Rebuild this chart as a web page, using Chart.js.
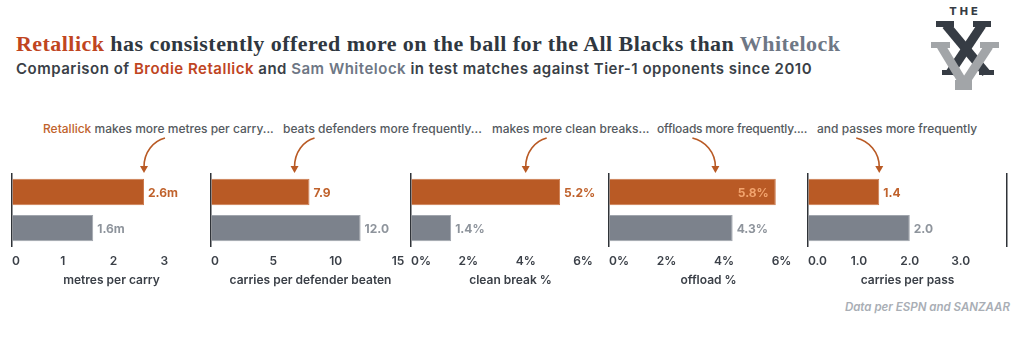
<!DOCTYPE html>
<html lang="en">

<head>
    <meta charset="UTF-8">
    <title>Retallick vs Whitelock</title>
    <style>
        body {
            margin: 0;
            background: #fff;
            font-family: Inter, sans-serif;
        }

        .page {
            position: relative;
            width: 1024px;
            height: 351px;
            overflow: hidden;
        }

        .title {
            position: absolute;
            left: 16px;
            top: 32px;
            font-family: "Liberation Serif", serif;
            font-weight: 700;
            font-size: 22px;
            letter-spacing: 0.45px;
            line-height: 24px;
            color: #2f3740;
            white-space: nowrap;
        }

        .subtitle {
            position: absolute;
            left: 16px;
            top: 60px;
            font-size: 15px;
            font-weight: 600;
            letter-spacing: 0.5px;
            line-height: 18px;
            color: #3a3f47;
            white-space: nowrap;
        }

        .red { color: #c0451f; }
        .grey { color: #6e7785; }

        .note {
            position: absolute;
            top: 121px;
            font-size: 12px;
            font-weight: 500;
            line-height: 16px;
            color: #555a60;
            white-space: nowrap;
        }

        .note .hl { color: #c0622c; }

        .panel {
            position: absolute;
            top: 110px;
        }

        .source {
            position: absolute;
            right: 14px;
            top: 300px;
            font-size: 11.5px;
            font-weight: 600;
            font-style: italic;
            color: #a9aeb5;
            white-space: nowrap;
        }

        .logo {
            position: absolute;
            left: 920px;
            top: 0;
        }
    </style>
</head>

<body>
    <div class="page" id="page">
        <div class="title"><span class="red">Retallick</span> has consistently offered more on the ball for the All Blacks than <span class="grey">Whitelock</span></div>
        <div class="subtitle">Comparison of <span class="red">Brodie Retallick</span> and <span class="grey">Sam Whitelock</span> in test matches against Tier-1 opponents since 2010</div>

        <!-- logo -->
        <svg class="logo" width="100" height="95" viewBox="920 0 100 95">
            <text x="965" y="15" text-anchor="middle" font-family="Inter" font-weight="800" font-size="11" letter-spacing="3" fill="#363c44">THE</text>
            <g stroke="#363c44" stroke-width="9">
                <line x1="946" y1="25" x2="986" y2="73" />
                <line x1="982" y1="25" x2="950" y2="73" />
            </g>
            <g fill="#363c44">
                <rect x="936" y="21" width="18" height="6" />
                <rect x="973" y="21" width="18" height="6" />
                <rect x="942" y="70" width="16" height="5" />
                <rect x="979" y="70" width="15" height="5" />
            </g>
            <g stroke="#a2a5a8" stroke-width="9">
                <line x1="941" y1="46" x2="964" y2="84" />
                <line x1="989" y1="46" x2="964" y2="84" />
            </g>
            <g fill="#a2a5a8">
                <rect x="931" y="42" width="19" height="6" />
                <rect x="980" y="42" width="19" height="6" />
                <rect x="955" y="80" width="17" height="10" />
            </g>
        </svg>

        <div class="source">Data per ESPN and SANZAAR</div>
    </div>

    <script src="https://cdn.jsdelivr.net/npm/chart.js"></script>
    <script>
        // data
        const players = ['Brodie Retallick', 'Sam Whitelock'];
        const metrics = ['metres per carry', 'carries per defender beaten', 'clean break %', 'offload %', 'carries per pass'];
        const retallick = [2.6, 7.9, 5.2, 5.8, 1.4];
        const whitelock = [1.6, 12.0, 1.4, 4.3, 2.0];
        const valueSuffix = ['m', '', '%', '%', ''];

        // axis ticks per panel
        const tickValues = [[0, 1, 2, 3], [0, 5, 10, 15], [0, 2, 4, 6], [0, 2, 4, 6], [0, 1, 2, 3]];
        const tickSuffix = ['', '', '%', '%', ''];
        const tickDecimals = [0, 0, 0, 0, 1];
        const axisMax = [3.92, 15.96, 6.94, 6.92, 3.91];

        // annotations above each panel
        const notes = ['makes more metres per carry...', 'beats defenders more frequently...', 'makes more clean breaks...', 'offloads more frequently....', 'and passes more frequently'];
        const noteLeft = [43, 283, 492, 657, 817];
        const arrowAt = [2.6, 6.7, 4.0, 3.7, 1.4];   // where the arrow points, in axis units
        const arrowFrom = [21, 20, 21, -23, -23];    // horizontal start offset of arrow (px)

        const panelLeft = [10, 209, 409, 607, 806];

        const ORANGE = '#b95a25';
        const GREY = '#7c828c';
        const INK = '#3b4048';

        Chart.defaults.font.family = 'Inter, sans-serif';

        const page = document.getElementById('page');

        // annotation texts
        notes.forEach((t, i) => {
            const d = document.createElement('div');
            d.className = 'note';
            d.style.left = noteLeft[i] + 'px';
            if (i === 3) d.style.letterSpacing = '-0.2px';
            d.innerHTML = (i === 0 ? '<span class="hl">Retallick</span> ' : '') + t;
            page.appendChild(d);
        });

        // value labels at the end of bars
        const valueLabels = {
            id: 'valueLabels',
            afterDatasetsDraw(chart, args, opts) {
                const ctx = chart.ctx;
                const bars = chart.getDatasetMeta(0).data;
                bars.forEach((bar, j) => {
                    const v = chart.data.datasets[0].data[j];
                    const text = v.toFixed(1) + opts.suffix;
                    ctx.save();
                    ctx.font = '700 12px Inter';
                    ctx.textBaseline = 'middle';
                    if (opts.inside && j === 0) {
                        ctx.textAlign = 'right';
                        ctx.fillStyle = '#f2a46e';
                        ctx.fillText(text, bar.x - 7, bar.y + 1);
                    } else {
                        ctx.textAlign = 'left';
                        ctx.fillStyle = j === 0 ? '#c0622c' : '#8e949c';
                        ctx.fillText(text, bar.x + 4, bar.y + 1);
                    }
                    ctx.restore();
                });
            }
        };

        // curved arrow from the note down to the bar
        const noteArrow = {
            id: 'noteArrow',
            afterDraw(chart, args, opts) {
                const ctx = chart.ctx;
                const tx = chart.scales.x.getPixelForValue(opts.at);
                const sx = tx + opts.from;
                ctx.save();
                ctx.strokeStyle = ORANGE;
                ctx.fillStyle = ORANGE;
                ctx.lineWidth = 1.6;
                ctx.beginPath();
                ctx.moveTo(sx, 28);
                ctx.bezierCurveTo(tx + opts.from * 0.45, 31, tx, 42, tx, 57);
                ctx.stroke();
                ctx.beginPath();
                ctx.moveTo(tx - 4, 56);
                ctx.lineTo(tx + 4, 56);
                ctx.lineTo(tx, 63);
                ctx.closePath();
                ctx.fill();
                ctx.restore();
            }
        };

        metrics.forEach((metric, i) => {
            const wrap = document.createElement('div');
            wrap.className = 'panel';
            wrap.style.left = panelLeft[i] + 'px';
            const canvas = document.createElement('canvas');
            canvas.width = 203;
            canvas.height = 181;
            wrap.appendChild(canvas);
            page.appendChild(wrap);

            const scales = {
                x: {
                    min: 0,
                    max: axisMax[i],
                    border: { display: false },
                    // invisible tick marks just push the labels down
                    grid: { display: true, drawOnChartArea: false, drawTicks: true, tickLength: 8, color: 'rgba(0,0,0,0)' },
                    afterBuildTicks: axis => {
                        axis.ticks = tickValues[i].concat([axisMax[i]]).map(v => ({ value: v }));
                    },
                    ticks: {
                        autoSkip: false,
                        maxRotation: 0,
                        align: 'inner',
                        padding: 0,
                        color: INK,
                        font: { size: 12, weight: '600' },
                        callback: (v, k) => k >= tickValues[i].length ? '' : v.toFixed(tickDecimals[i]) + tickSuffix[i]
                    },
                    title: {
                        display: true,
                        text: metric,
                        color: INK,
                        font: { size: 12, weight: '600' },
                        padding: { top: 5, bottom: 0 }
                    }
                },
                y: {
                    border: { display: true, color: '#2f3338', width: 1.5 },
                    grid: { display: false, drawTicks: false },
                    ticks: { display: false, padding: 0 }
                }
            };
            // last panel is closed on the right
            if (i === metrics.length - 1) {
                scales.y2 = {
                    type: 'category',
                    position: 'right',
                    labels: players,
                    border: { display: true, color: '#2f3338', width: 1.5 },
                    grid: { display: false, drawTicks: false },
                    ticks: { display: false, padding: 0 }
                };
            }

            new Chart(canvas.getContext('2d'), {
                type: 'bar',
                data: {
                    labels: players,
                    datasets: [{
                        data: [retallick[i], whitelock[i]],
                        backgroundColor: [ORANGE, GREY],
                        borderColor: ['#cd7a4c', '#a0a5ad'],
                        borderWidth: 1,
                        barPercentage: 0.73,
                        categoryPercentage: 1
                    }]
                },
                options: {
                    indexAxis: 'y',
                    responsive: false,
                    animation: false,
                    layout: { padding: { left: 2, right: 2, top: 64, bottom: 3 } },
                    scales: scales,
                    plugins: {
                        legend: { display: false },
                        tooltip: { enabled: false },
                        valueLabels: { suffix: valueSuffix[i], inside: i === 3 },
                        noteArrow: { at: arrowAt[i], from: arrowFrom[i] }
                    }
                },
                plugins: [valueLabels, noteArrow]
            });
        });
    </script>
</body>

</html>
